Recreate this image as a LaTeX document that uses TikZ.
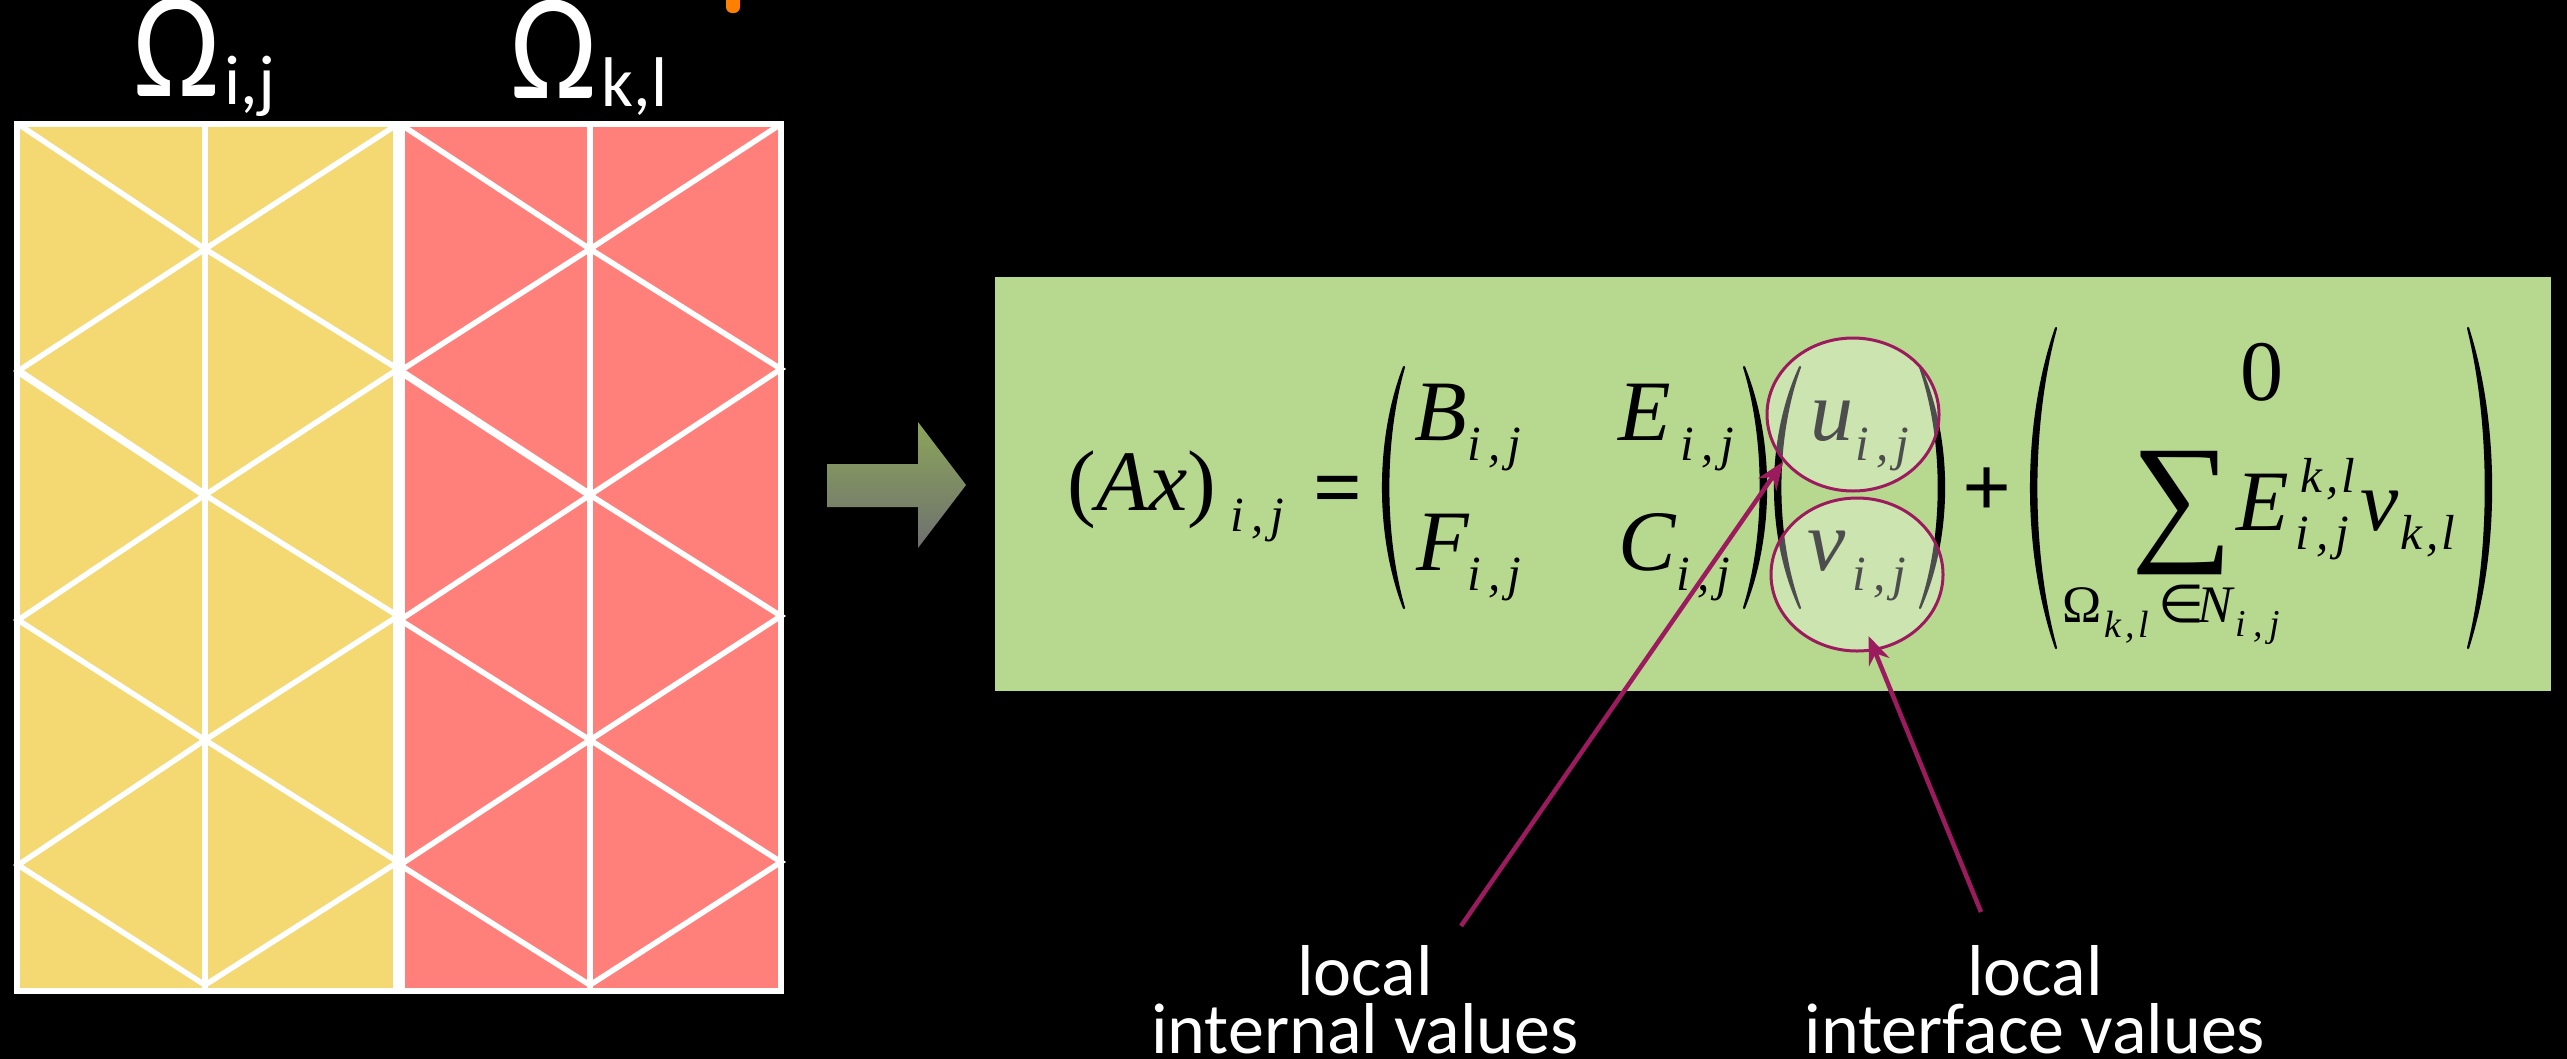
\documentclass[tikz,border=0pt]{standalone}
\usepackage{fontspec}
\setmainfont{Liberation Serif}
\newfontfamily\labelfont{Carlito}
\newfontfamily\symbolfont{DejaVu Sans}
\usetikzlibrary{arrows.meta}
\usetikzlibrary{shapes.geometric}

\definecolor{yellowcell}{HTML}{F4D872}
\definecolor{pinkcell}{HTML}{FF7F7B}
\definecolor{greenbox}{HTML}{B7D98F}
\definecolor{pointer}{HTML}{9B1B5E}
\definecolor{arrowtop}{HTML}{8CA55A}
\definecolor{arrowbottom}{HTML}{6E7070}

\newcommand{\ijsub}{i\kern2pt,\kern2pt j}
\newcommand{\klsub}{k\kern1pt,\kern1pt l}
\newcommand{\parenshape}[4]{%
    \pgfmathsetmacro\ctrlout{(#2-0.25*#1)/0.75}
    \pgfmathsetmacro\ctrlin{\ctrlout+7*sign(#1-#2)}
    \pgfmathsetmacro\bendtop{#3+0.3*(#4-#3)}
    \pgfmathsetmacro\bendbot{#4-0.3*(#4-#3)}
    \filldraw[line width=0.22mm,line join=round] (#1,#3) .. controls (\ctrlout,\bendtop) and (\ctrlout,\bendbot) .. (#1,#4)
        .. controls (\ctrlin,\bendbot) and (\ctrlin,\bendtop) .. (#1,#3) -- cycle;
}

\tikzset{
    meshline/.style={white,line width=0.55mm},
    eqbase/.style={inner sep=0pt,anchor=base west},
    eqbig/.style={eqbase,font=\fontsize{24.5}{28}\selectfont\itshape},
    equp/.style={eqbase,font=\fontsize{24.5}{28}\selectfont},
    eqbold/.style={eqbase,font=\fontsize{24.5}{28}\selectfont\bfseries},
    eqsub/.style={eqbase,font=\fontsize{14}{16}\selectfont\itshape},
    eqtiny/.style={eqbase,font=\fontsize{10.8}{12}\selectfont\itshape},
    eqmid/.style={eqbase,font=\fontsize{15}{17}\selectfont},
    omegatext/.style={white,inner sep=0pt,anchor=base west,yscale=1.17,transform shape,
        font=\labelfont\fontsize{37}{40}\selectfont},
    omegasub/.style={white,inner sep=0pt,anchor=base west,font=\labelfont\fontsize{20}{22}\selectfont},
    labeltext/.style={white,inner sep=0pt,align=center,anchor=base,
        font=\labelfont\fontsize{20.5}{16.5}\selectfont},
    valueoval/.style={ellipse,draw=pointer,line width=0.3mm,fill=white,fill opacity=0.3,
        text opacity=1,minimum width=17.2mm,minimum height=15.3mm,inner sep=0pt},
    pointerline/.style={pointer,line width=0.45mm,-{Stealth[length=2.8mm,width=2.2mm]}},
}

\begin{document}
\begin{tikzpicture}[x=0.1mm,y=-0.1mm]

    \useasboundingbox (0,0) rectangle (2567,1058);
    \fill[black] (-10,-10) rectangle (2577,1068);

    \fill[orange,rounded corners=0.6mm] (726,-10) rectangle (740,13);

    \node[omegatext] (omegaij) at (133,96) {Ω};
    \node[omegasub] (subij) at (224,104) {i,j};
    \node[omegatext] (omegakl) at (510,98) {Ω};
    \node[omegasub] (subkl) at (601,106) {k,l};

    \fill[yellowcell] (17,124) rectangle (399,990);
    \fill[pinkcell] (399,124) rectangle (781,990);

    \foreach \xa/\xb/\xc in {18/205/398, 400/590/781} {
        \draw[meshline] (\xa,124) -- (\xb,249) -- (\xa,371) -- (\xb,495) -- (\xa,620) -- (\xb,740) -- (\xa,865) -- (\xb,985);
        \draw[meshline] (\xc,124) -- (\xb,249) -- (\xc,369) -- (\xb,495) -- (\xc,616) -- (\xb,740) -- (\xc,862) -- (\xb,985);
        \draw[meshline] (\xb,124) -- (\xb,989);
        \draw[white,line width=0.75mm] (\xa,371) -- (\xb,495);
    }
    \draw[white,line width=0.6mm] (17,124) rectangle (781,990.5);
    \draw[white,line width=1.2mm] (399,124) -- (399,990);

    \shade[top color=arrowtop,bottom color=arrowbottom]
        (827,464) -- (918,464) -- (918,422) -- (966,485) -- (918,548) -- (918,507) -- (827,507) -- cycle;

    \fill[greenbox] (995,277) rectangle (2551,691);

    \node[equp] (axopen) at (1067,510) {(\textit{Ax})};
    \node[eqsub] (axsub) at (1230,531) {\ijsub};
    \node[eqbold] (equal) at (1313,516) {=};

    \parenshape{1404}{1383}{367}{608}
    \node[eqbig] (bent) at (1414,440) {B};
    \node[eqsub] (bsub) at (1467,460) {\ijsub};
    \node[eqbig] (eent) at (1618,440) {E};
    \node[eqsub] (esub) at (1680,460) {\ijsub};
    \node[eqbig] (fent) at (1416,570) {F};
    \node[eqsub] (fsub) at (1467,590) {\ijsub};
    \node[eqbig] (cent) at (1618,570) {C};
    \node[eqsub] (csub) at (1676,590) {\ijsub};
    \parenshape{1744}{1766}{367}{608}

    \parenshape{1800}{1775}{367}{608}
    \node[eqbig] (uent) at (1810,440) {u};
    \node[eqsub] (usub) at (1855,460) {\ijsub};
    \node[eqbig] (vent) at (1807,570) {v};
    \node[eqsub] (vsub) at (1852,590) {\ijsub};
    \parenshape{1920}{1944}{367}{608}

    \node[eqbold] (plus) at (1962,516) {+};

    \parenshape{2056}{2031}{328}{648}
    \node[equp] (zero) at (2240,400) {0};
    \node[eqbase,font=\fontsize{40.5}{46}\selectfont] (sumsign) at (2131,544) {∑};
    \node[eqbig] (esum) at (2236,530) {E};
    \node[eqsub] (esup) at (2300,492) {\klsub};
    \node[eqsub] (esumsub) at (2295,549) {\ijsub};
    \node[eqbig] (vsum) at (2360,530) {v};
    \node[eqsub] (vsumsub) at (2400,549) {\klsub};
    \node[eqmid] (omegasum) at (2062,622) {Ω};
    \node[eqtiny] (omegasumsub) at (2104,637) {\klsub};
    \node[eqmid,font=\symbolfont\fontsize{15}{17}\selectfont] (inset) at (2158,622) {∈};
    \node[eqmid,font=\fontsize{15}{17}\selectfont\itshape] (nset) at (2197,622) {N};
    \node[eqtiny] (nsetsub) at (2235,636) {\ijsub};
    \parenshape{2468}{2491}{328}{648}

    \node[valueoval] (uval) at (1853,414.5) {};
    \node[valueoval] (vval) at (1857,574.5) {};

    \node[labeltext] (internal) at (1365,1053) {local\\internal values};
    \node[labeltext] (interface) at (2035,1053) {local\\interface values};

    \coordinate (internaltail) at (1461,926);
    \coordinate (interfacetail) at (1981,912);

    \draw[pointerline] (internaltail) -- (uval.214);
    \draw[pointerline,shorten >=-1.6mm] (interfacetail) -- (vval.283);

\end{tikzpicture}
\end{document}
